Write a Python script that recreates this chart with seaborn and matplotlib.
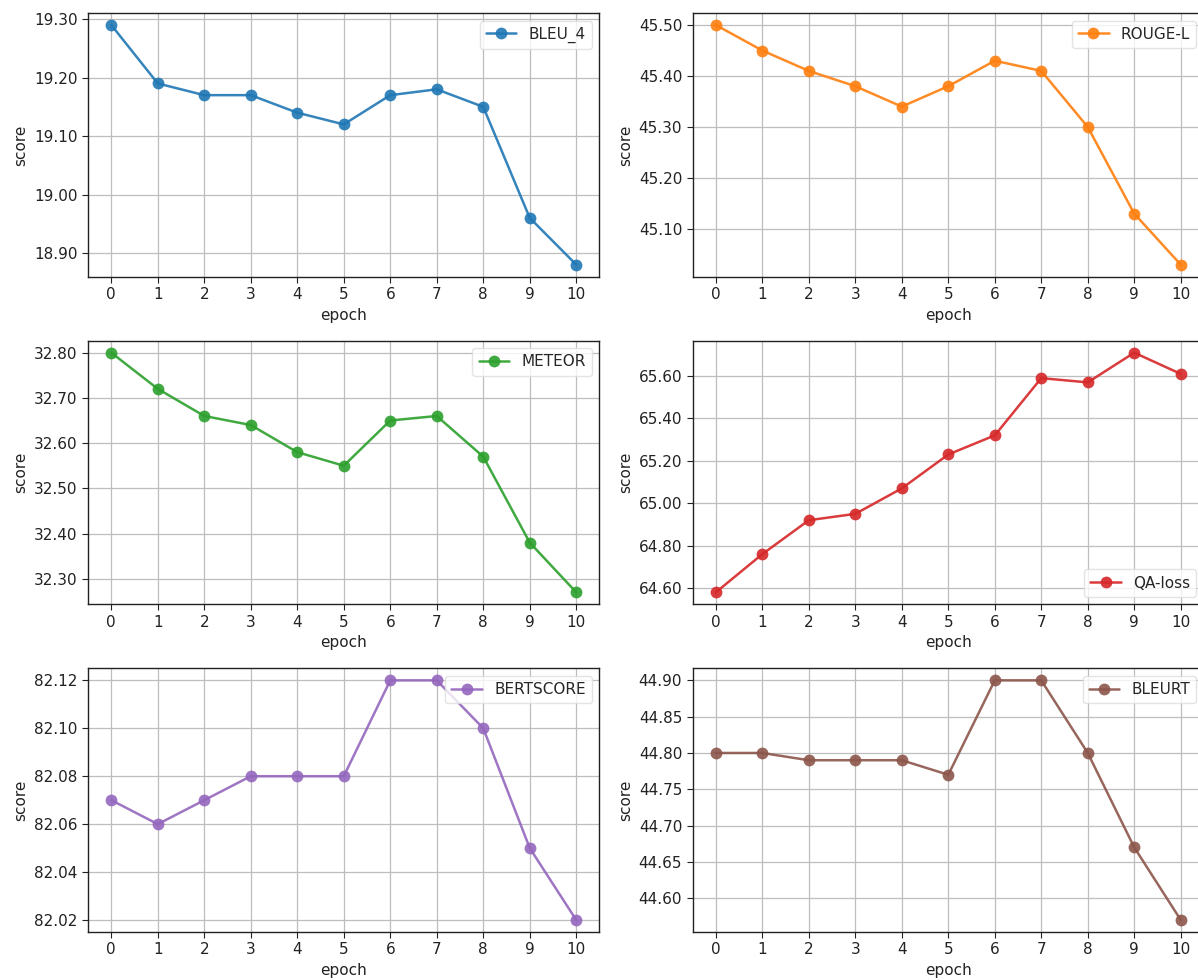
import matplotlib
matplotlib.use("Agg")
import matplotlib.pyplot as plt
import seaborn as sns
import pandas as pd
from matplotlib.ticker import FormatStrFormatter

epochs = list(range(11))
bleu_4 = [19.29, 19.19, 19.17, 19.17, 19.14, 19.12, 19.17, 19.18, 19.15, 18.96, 18.88]
rouge_l = [45.50, 45.45, 45.41, 45.38, 45.34, 45.38, 45.43, 45.41, 45.30, 45.13, 45.03]
meteor = [32.80, 32.72, 32.66, 32.64, 32.58, 32.55, 32.65, 32.66, 32.57, 32.38, 32.27]
qa_loss = [64.58, 64.76, 64.92, 64.95, 65.07, 65.23, 65.32, 65.59, 65.57, 65.71, 65.61]
bertscore = [82.07, 82.06, 82.07, 82.08, 82.08, 82.08, 82.12, 82.12, 82.10, 82.05, 82.02]
bleurt = [44.80, 44.80, 44.79, 44.79, 44.79, 44.77, 44.90, 44.90, 44.80, 44.67, 44.57]

names = ["BLEU_4", "ROUGE-L", "METEOR", "QA-loss", "BERTSCORE", "BLEURT"]
series = [bleu_4, rouge_l, meteor, qa_loss, bertscore, bleurt]
colors = ["#1f77b4", "#ff7f0e", "#2ca02c", "#d62728", "#9467bd", "#8c564b"]
legend_locs = ["upper right", "upper right", "upper right", "lower right", "upper right", "upper right"]

sns.set_style("ticks")
plt.rcParams['font.family'] = ['DejaVu Sans']
plt.rcParams['axes.edgecolor'] = '#222222'

fig, axes = plt.subplots(3, 2, figsize=(11.98, 9.8), dpi=100)
fig.subplots_adjust(left=0.0735, right=1.005, top=0.9867, bottom=0.049,
                    wspace=0.182, hspace=0.243)

for ax, name, vals, col, loc in zip(axes.flat, names, series, colors, legend_locs):
    df = pd.DataFrame({"epoch": epochs, "score": vals})
    sns.lineplot(data=df, x="epoch", y="score", ax=ax, color=col, marker="o",
                 markersize=8.5, markeredgewidth=0, linewidth=1.8, alpha=0.9, label=name)
    ax.set_xticks(epochs)
    ax.yaxis.set_major_formatter(FormatStrFormatter('%.2f'))
    ax.grid(True, color='#bdbdbd', linewidth=0.9)
    ax.set_axisbelow(True)
    ax.tick_params(labelsize=11, colors='#222222', length=4)
    ax.set_xlabel("epoch", fontsize=11, color='#222222')
    ax.set_ylabel("score", fontsize=11, color='#222222')
    for s in ax.spines.values():
        s.set_linewidth(1.0)
    leg = ax.legend(loc=loc, fontsize=11, frameon=True, fancybox=True)
    leg.get_frame().set_edgecolor('#dddddd')

fig.savefig("out.png", dpi=100)
